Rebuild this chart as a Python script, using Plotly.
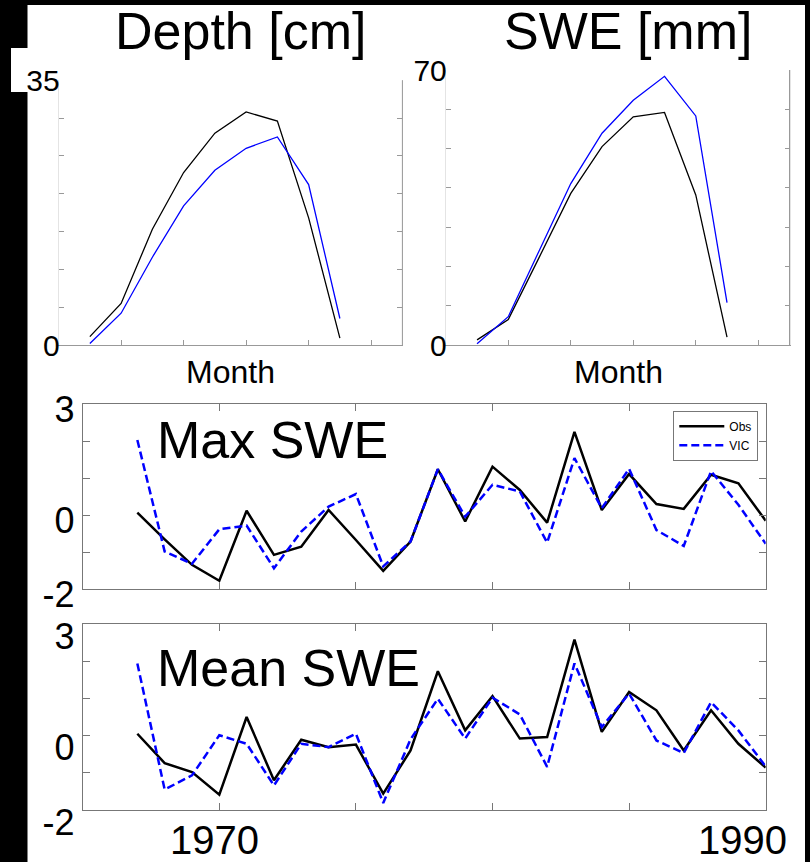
import plotly.graph_objects as go

# ---------------- data ----------------
months = [1, 2, 3, 4, 5, 6, 7, 8, 9]
depth_obs = [1.1, 5.5, 15.3, 22.8, 28.0, 30.8, 29.6, 16.8, 0.9]
depth_vic = [0.2, 4.2, 11.6, 18.4, 23.1, 26.0, 27.5, 21.2, 3.5]
swe_obs = [1.3, 6.5, 22.5, 38.6, 50.5, 58.1, 59.2, 38.2, 2.0]
swe_vic = [0.3, 7.2, 24.2, 41.1, 53.9, 62.3, 68.4, 58.3, 10.8]

years = list(range(1967, 1991))
max_obs = [0.07, -0.65, -1.34, -1.77, 0.12, -1.07, -0.85, 0.14, -0.67, -1.50,
           -0.71, 1.24, -0.17, 1.31, 0.68, -0.20, 2.25, 0.14, 1.11, 0.30,
           0.17, 1.09, 0.86, -0.15]
max_vic = [2.03, -0.98, -1.31, -0.38, -0.28, -1.43, -0.44, 0.23, 0.57, -1.38,
           -0.71, 1.24, -0.04, 0.82, 0.64, -0.74, 1.54, 0.19, 1.25, -0.40,
           -0.83, 1.19, 0.28, -0.77]
mean_obs = [0.05, -0.74, -0.98, -1.59, 0.50, -1.20, -0.11, -0.31, -0.24, -1.56,
            -0.40, 1.73, 0.14, 1.06, -0.08, -0.04, 2.58, 0.10, 1.17, 0.68,
            -0.40, 0.68, -0.22, -0.86]
mean_vic = [1.94, -1.45, -1.07, 0.01, -0.22, -1.34, -0.22, -0.31, 0.05, -1.81,
            -0.10, 0.99, -0.08, 1.02, 0.57, -0.84, 1.94, 0.23, 1.13, -0.13,
            -0.47, 0.90, 0.14, -0.83]

depth_ticks = [0, 5, 10, 15, 20, 25, 30, 35]
depth_ticktext = ["0", "", "", "", "", "", "", "35"]
swe_ticks = [0, 10, 20, 30, 40, 50, 60, 70]
swe_ticktext = ["0", "", "", "", "", "", "", "70"]
month_ticks = [2, 4, 6, 8, 10]
anom_ticks = [-2, -1, 0, 1, 2, 3]
anom_ticktext = ["-2", "", "0", "", "", "3"]
year_ticks = [1970, 1975, 1980, 1985, 1990]
year_labels = [1970, 1990]

W, H = 810, 862
FONT = "Liberation Sans, Arial, sans-serif"

def px(x):
    return x / W

def py(y):
    return 1 - y / H

fig = go.Figure()

# top panels
fig.add_trace(go.Scatter(x=months, y=depth_obs, mode="lines", line=dict(color="black", width=1.3),
                         xaxis="x", yaxis="y", showlegend=False))
fig.add_trace(go.Scatter(x=months, y=depth_vic, mode="lines", line=dict(color="#0000ff", width=1.3),
                         xaxis="x", yaxis="y", showlegend=False))
fig.add_trace(go.Scatter(x=months, y=swe_obs, mode="lines", line=dict(color="black", width=1.3),
                         xaxis="x2", yaxis="y2", showlegend=False))
fig.add_trace(go.Scatter(x=months, y=swe_vic, mode="lines", line=dict(color="#0000ff", width=1.3),
                         xaxis="x2", yaxis="y2", showlegend=False))

# bottom panels
fig.add_trace(go.Scatter(x=years, y=max_obs, mode="lines", name="Obs",
                         line=dict(color="black", width=2.5), xaxis="x3", yaxis="y3"))
fig.add_trace(go.Scatter(x=years, y=max_vic, mode="lines", name="VIC",
                         line=dict(color="#0000ff", width=2.5, dash="8px,4px"), xaxis="x3", yaxis="y3"))
fig.add_trace(go.Scatter(x=years, y=mean_obs, mode="lines", showlegend=False,
                         line=dict(color="black", width=2.5), xaxis="x4", yaxis="y4"))
fig.add_trace(go.Scatter(x=years, y=mean_vic, mode="lines", showlegend=False,
                         line=dict(color="#0000ff", width=2.5, dash="8px,4px"), xaxis="x4", yaxis="y4"))

top_x = dict(range=[0, 11], tickvals=month_ticks, showticklabels=False, ticks="inside", ticklen=5,
             tickcolor="#999", showline=True, linecolor="#999", linewidth=1, mirror=False,
             showgrid=False, zeroline=False, automargin=False)
top_y = dict(ticks="inside", ticklen=5, tickcolor="#999", showline=True, linecolor="#e4e4e4",
             linewidth=1, mirror="ticks", showgrid=False, zeroline=False, automargin=False,
             ticklabelstandoff=-8,
             tickfont=dict(size=30, color="black", family=FONT))
bot_x = dict(range=[1965, 1990], tickvals=year_ticks, showticklabels=False, ticks="inside", ticklen=7,
             tickcolor="#777", showline=True, linecolor="#777", linewidth=1, mirror="ticks",
             showgrid=False, zeroline=False, automargin=False)
bot_y = dict(range=[-2, 3], tickvals=anom_ticks, ticktext=anom_ticktext, ticks="inside", ticklen=7,
             tickcolor="#777", showline=True, linecolor="#777", linewidth=1, mirror="ticks",
             showgrid=False, zeroline=False, automargin=False,
             tickfont=dict(size=36, color="black", family=FONT))

fig.update_layout(
    width=W, height=H,
    margin=dict(l=0, r=0, t=0, b=0, pad=0, autoexpand=False),
    paper_bgcolor="white", plot_bgcolor="white",
    font=dict(family=FONT, color="black"),
    xaxis=dict(domain=[px(58.6), px(402.4)], anchor="y", **top_x),
    yaxis=dict(domain=[py(345), py(80.2)], anchor="x", range=[0, 35],
               tickvals=depth_ticks, ticktext=depth_ticktext, **top_y),
    xaxis2=dict(domain=[px(445.8), px(789.5)], anchor="y2", **top_x),
    yaxis2=dict(domain=[py(345), py(70)], anchor="x2", range=[0, 70],
                tickvals=swe_ticks, ticktext=swe_ticktext, **top_y),
    xaxis3=dict(domain=[px(82.7), px(765.7)], anchor="y3", **bot_x),
    yaxis3=dict(domain=[py(589.3), py(404)], anchor="x3", ticklabelshift=5, **bot_y),
    xaxis4=dict(domain=[px(82.7), px(765.7)], anchor="y4", **bot_x),
    yaxis4=dict(domain=[py(810), py(624)], anchor="x4", ticklabelshift=12, **bot_y),
    legend=dict(x=px(758.3), xanchor="right", y=py(410.7), yanchor="top",
                bgcolor="white", bordercolor="#777", borderwidth=1,
                font=dict(size=12, family=FONT, color="black"), itemwidth=45, tracegroupgap=0),
)

shapes = [
    # black frame pieces of the composite
    dict(type="rect", xref="paper", yref="paper", x0=0, x1=px(27.5), y0=0, y1=1,
         fillcolor="black", line=dict(width=0), layer="below"),
    dict(type="rect", xref="paper", yref="paper", x0=0, x1=1, y0=py(5), y1=1,
         fillcolor="black", line=dict(width=0), layer="below"),
    dict(type="rect", xref="paper", yref="paper", x0=px(805), x1=1, y0=0, y1=1,
         fillcolor="black", line=dict(width=0), layer="below"),
    dict(type="rect", xref="paper", yref="paper", x0=px(11), x1=px(60), y0=py(92), y1=py(48),
         fillcolor="white", line=dict(width=0), layer="below"),
    # right border of top panels
    dict(type="line", xref="x domain", yref="y domain", x0=1, x1=1, y0=0, y1=1,
         line=dict(color="#999", width=1)),
    dict(type="line", xref="x2 domain", yref="y2 domain", x0=1, x1=1, y0=0, y1=1,
         line=dict(color="#999", width=1)),
]
fig.update_layout(shapes=shapes)

ann = []
ann.append(dict(text="Depth [cm]", x=px(240), y=py(0), xref="paper", yref="paper",
                xanchor="center", yanchor="top", showarrow=False, font=dict(size=52, family=FONT)))
ann.append(dict(text="SWE [mm]", x=px(627.5), y=py(0), xref="paper", yref="paper",
                xanchor="center", yanchor="top", showarrow=False, font=dict(size=52, family=FONT)))
ann.append(dict(text="Month", x=px(230.5), y=py(352), xref="paper", yref="paper",
                xanchor="center", yanchor="top", showarrow=False, font=dict(size=32, family=FONT)))
ann.append(dict(text="Month", x=px(618), y=py(352), xref="paper", yref="paper",
                xanchor="center", yanchor="top", showarrow=False, font=dict(size=32, family=FONT)))
ann.append(dict(text="Max SWE", x=px(155), y=py(409), xref="paper", yref="paper",
                xanchor="left", yanchor="top", showarrow=False, font=dict(size=52, family=FONT)))
ann.append(dict(text="Mean SWE", x=px(155), y=py(637), xref="paper", yref="paper",
                xanchor="left", yanchor="top", showarrow=False, font=dict(size=52, family=FONT)))
shifts = {1970: -5, 1990: -23}
for yr in year_labels:
    ann.append(dict(text=str(yr), x=yr, xref="x4", y=py(815.5), yref="paper",
                    xanchor="center", yanchor="top", xshift=shifts[yr], showarrow=False,
                    font=dict(size=40, family=FONT)))
fig.update_layout(annotations=ann)

fig.write_html("out.html")
